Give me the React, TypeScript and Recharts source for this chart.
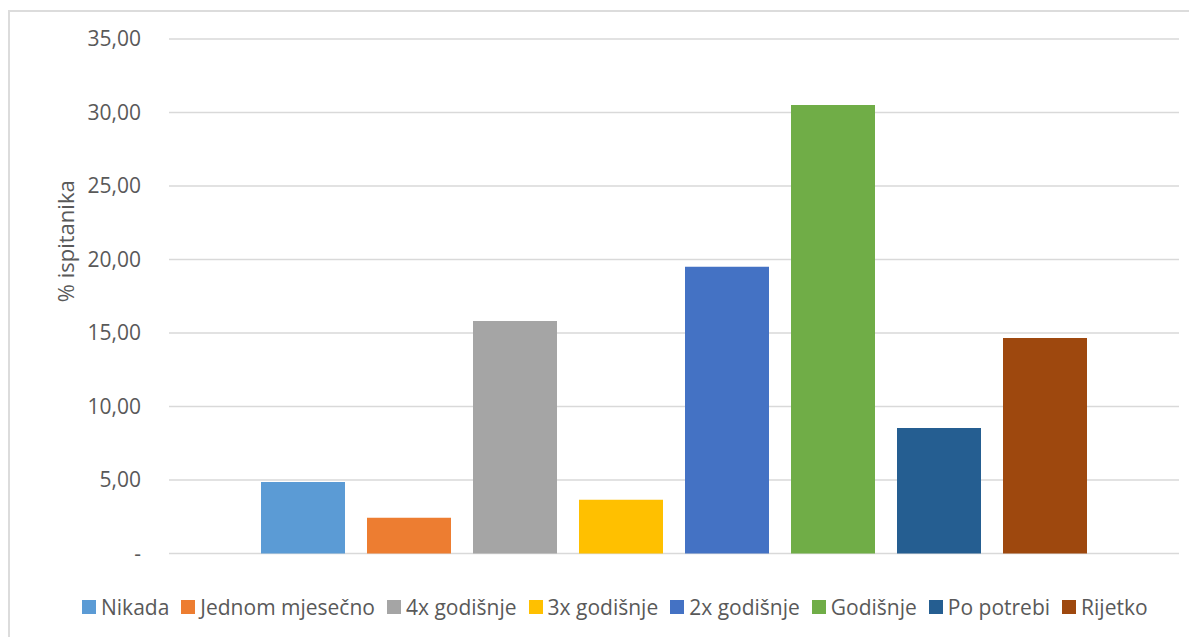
import { BarChart, Bar, XAxis, YAxis, CartesianGrid, Legend, Label } from 'recharts';

const seriesNames = ['Nikada', 'Jednom mjesečno', '4x godišnje', '3x godišnje', '2x godišnje', 'Godišnje', 'Po potrebi', 'Rijetko'];
const seriesValues = [4.86, 2.44, 15.82, 3.66, 19.51, 30.51, 8.54, 14.66];
const seriesColors = ['#5b9bd5', '#ed7d31', '#a5a5a5', '#ffc000', '#4472c4', '#70ad47', '#255e91', '#9e480e'];
const yTicks = [0, 5, 10, 15, 20, 25, 30, 35];

const FONT = '"Open Sans", sans-serif';
const TEXT = '#595959';

const row: Record<string, string | number> = { name: '' };
seriesNames.forEach((n, i) => {
  row[n] = seriesValues[i];
});
const data = [row];

const formatTick = (v: number) => (v === 0 ? '-' : v.toFixed(2).replace('.', ','));

const renderLegend = () => (
  <div style={{ display: 'flex', alignItems: 'center', fontFamily: FONT, fontSize: 21, color: TEXT, whiteSpace: 'nowrap' }}>
    {seriesNames.map((n, i) => (
      <div key={n} style={{ display: 'flex', alignItems: 'center', marginRight: 12 }}>
        <span style={{ display: 'inline-block', width: 14, height: 14, backgroundColor: seriesColors[i], marginRight: 5 }} />
        <span>{n}</span>
      </div>
    ))}
  </div>
);

const App = () => {
  return (
    <div style={{ position: 'relative', top: 2, width: 1189, height: 627, borderTop: '2px solid #dcdcdc', borderLeft: '2px solid #dcdcdc', backgroundColor: '#fff' }}>
      <BarChart
        width={1187}
        height={625}
        data={data}
        margin={{ top: 27, right: 18, left: 0, bottom: 83.5 }}
        barSize={84}
        barGap={22}
      >
        <CartesianGrid vertical={false} stroke="#d9d9d9" strokeWidth={1.5} />
        <XAxis dataKey="name" hide />
        <YAxis
          width={159}
          domain={[0, 35]}
          ticks={yTicks}
          interval={0}
          tickFormatter={formatTick}
          axisLine={false}
          tickLine={false}
          tickSize={0}
          tickMargin={28}
          tick={{ fill: TEXT, fontSize: 21, fontFamily: FONT }}
        >
          <Label
            content={({ viewBox }: any) => {
              const cx = 55;
              const cy = viewBox.y + viewBox.height / 2 - 55;
              return (
                <text x={cx} y={cy} transform={`rotate(-90, ${cx}, ${cy})`} textAnchor="middle" dominantBaseline="central" fill={TEXT} fontSize={22} fontFamily={FONT}>
                  % ispitanika
                </text>
              );
            }}
          />
        </YAxis>
        <Legend
          layout="horizontal"
          verticalAlign="middle"
          align="center"
          content={renderLegend}
          wrapperStyle={{ top: 581, left: 72, width: 'auto' }}
        />
        {seriesNames.map((n, i) => (
          <Bar key={n} dataKey={n} fill={seriesColors[i]} isAnimationActive={false} />
        ))}
      </BarChart>
    </div>
  );
};

export default App;
